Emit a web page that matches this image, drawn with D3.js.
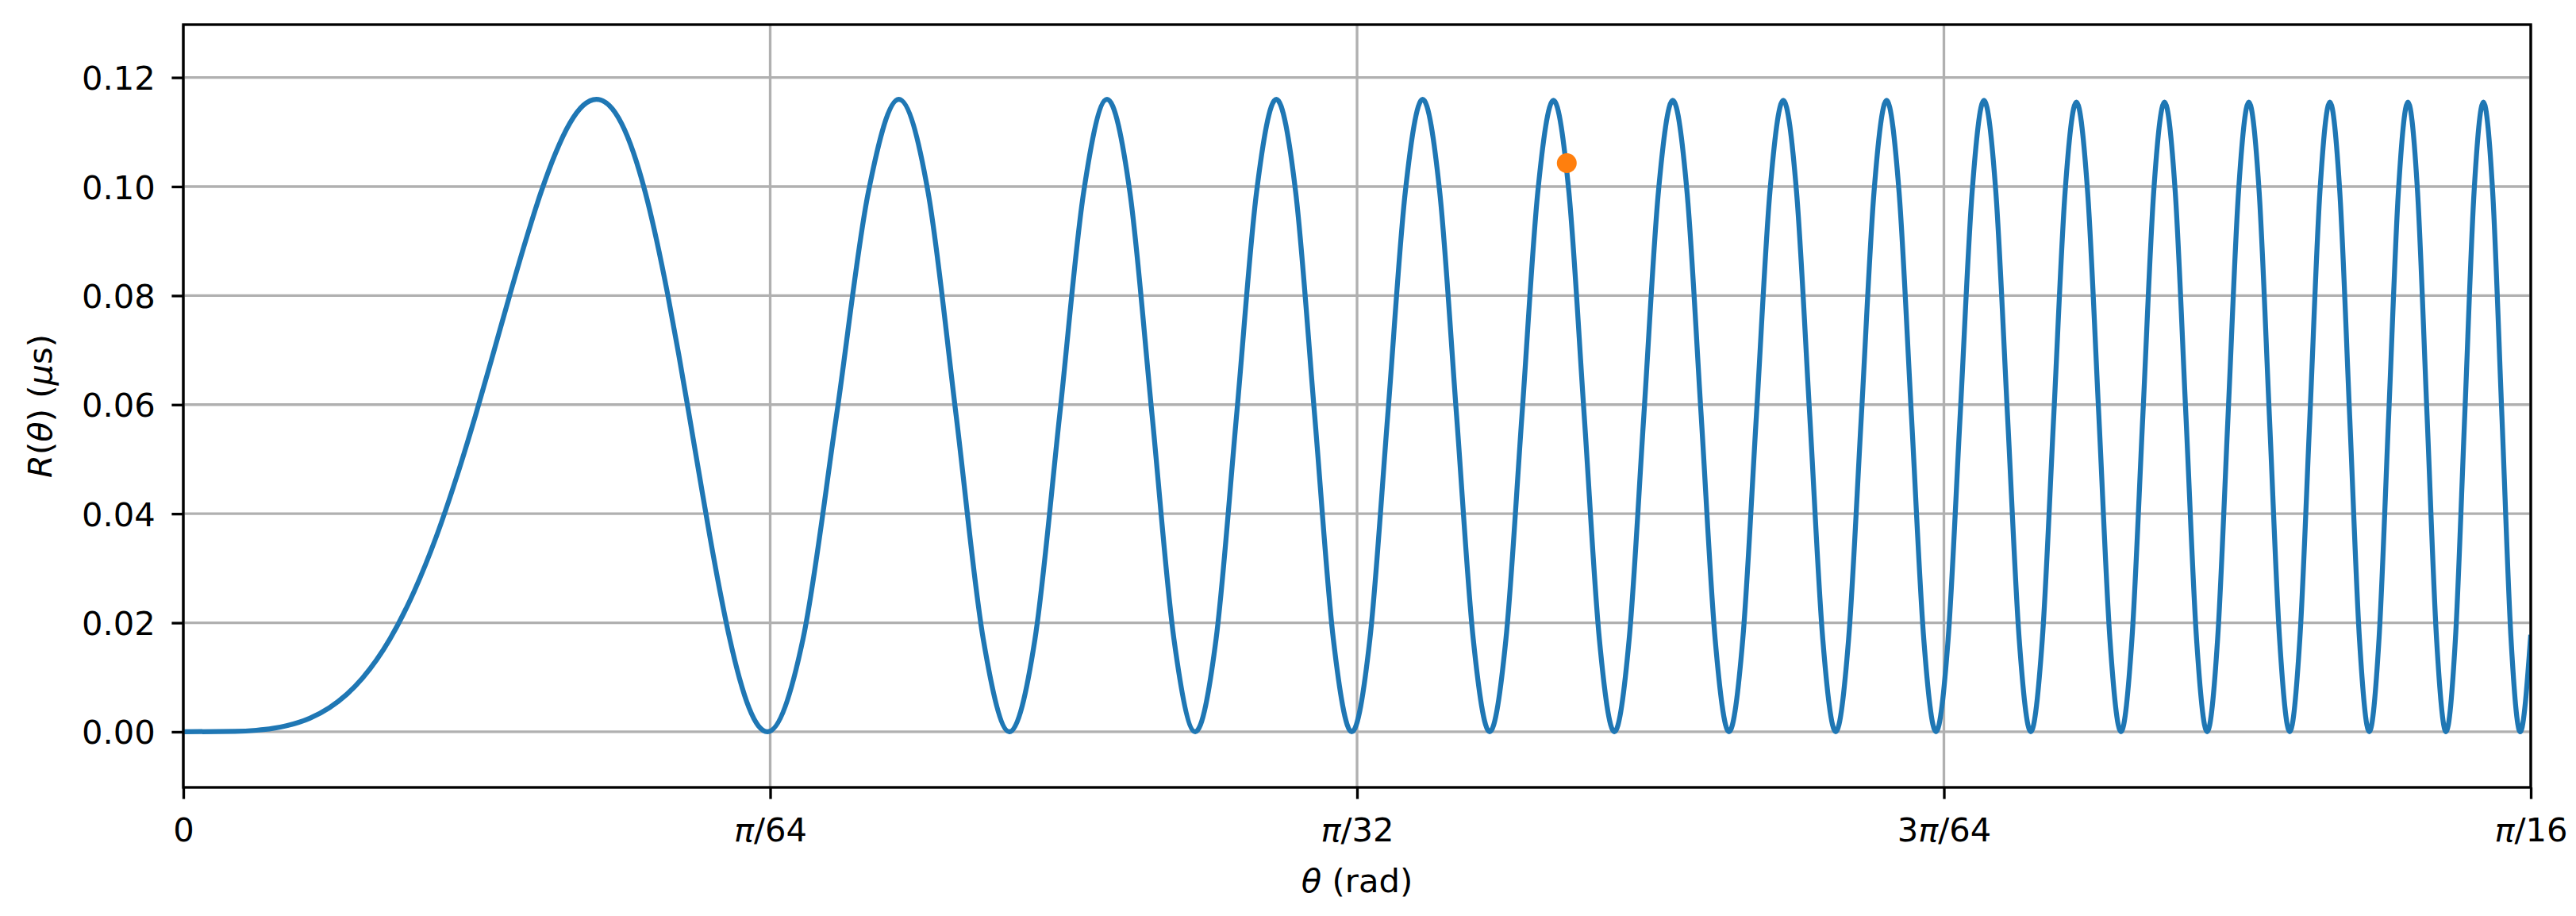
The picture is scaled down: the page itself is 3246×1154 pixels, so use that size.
<html>
<head>
    <meta charset="utf-8">
    <title>R(theta)</title>
    <style>
        body { margin: 0; background: #fff; }
        text { font-family: "DejaVu Sans", sans-serif; font-size: 41.67px; fill: #000; }
    </style>
</head>
<body>
<script src="https://cdn.jsdelivr.net/npm/d3@7/dist/d3.min.js"></script>
<script>
    // theta is in units of pi/64 rad, R in microseconds (one hump per line)
    var theta = [
        0, 0.0880, 0.1244, 0.1524, 0.1760, 0.1968, 0.2155, 0.2489, 0.2783, 0.3048, 0.3520, 0.3935, 0.4311, 0.4656, 0.4978, 0.5279, 0.5565, 0.5837, 0.6096, 0.6345, 0.6585, 0.6816,
        0.7039, 0.7256, 0.7466, 0.7671, 0.7870, 0.8064, 0.8254, 0.8440, 0.8621, 0.8799, 0.8973, 0.9144, 0.9312, 0.9477, 0.9639, 0.9798, 0.9955,
        1.0559, 1.1130, 1.1673, 1.2192, 1.2690, 1.3169, 1.3631, 1.4078,
        1.4512, 1.4932, 1.5342, 1.5740, 1.6129, 1.6508, 1.6880, 1.7243,
        1.7598, 1.7947, 1.8288, 1.8624, 1.8954, 1.9278, 1.9596, 1.9910,
        2.0219, 2.0523, 2.0822, 2.1118, 2.1409, 2.1696, 2.1980, 2.2260,
        2.2537, 2.2810, 2.3080, 2.3347, 2.3610, 2.3871, 2.4129, 2.4385,
        2.4637, 2.4887, 2.5135, 2.5380, 2.5623, 2.5864, 2.6102, 2.6338,
        2.6573, 2.6805, 2.7035, 2.7263, 2.7489, 2.7714, 2.7936, 2.8157,
        2.8376, 2.8594, 2.8809, 2.9024, 2.9236, 2.9447, 2.9657, 2.9865,
        3.0072, 3.0277, 3.0481, 3.0683, 3.0885, 3.1084, 3.1283, 3.1480,
        3.1677, 3.1872, 3.2065, 3.2258, 3.2449, 3.2640, 3.2829, 3.3017,
        3.3204, 3.3390, 3.3575, 3.3759, 3.3942, 3.4124, 3.4305, 3.4485,
        3.4664, 3.4842, 3.5020, 3.5196, 3.5372, 3.5546, 3.5720, 3.5893,
        3.6065, 3.6237, 3.6407, 3.6577, 3.6746, 3.6914, 3.7081, 3.7248,
        3.7414, 3.7579, 3.7744, 3.7907, 3.8071, 3.8233, 3.8395, 3.8556,
        3.8716, 3.8875, 3.9034, 3.9193, 3.9351, 3.9508, 3.9664, 3.9820,
        4.0000
    ];
    var R = [
        0, 0.00007, 0.00028, 0.00063, 0.00111, 0.00174, 0.00250, 0.00442, 0.00685, 0.00978, 0.0170, 0.0258, 0.0358, 0.0467, 0.0580, 0.0693, 0.0802, 0.0902, 0.0990, 0.1062, 0.1116, 0.1149,
        0.1160, 0.1149, 0.1116, 0.1062, 0.0990, 0.0902, 0.0802, 0.0693, 0.0580, 0.0467, 0.0358, 0.0258, 0.0170, 0.0098, 0.0044, 0.0011, 0,
        0.0170, 0.0580, 0.0990, 0.1160, 0.0990, 0.0580, 0.0170, 0,
        0.0170, 0.0580, 0.0990, 0.1160, 0.0990, 0.0580, 0.0170, 0,
        0.0170, 0.0580, 0.0990, 0.1160, 0.0990, 0.0580, 0.0170, 0,
        0.0170, 0.0580, 0.0990, 0.1160, 0.0990, 0.0580, 0.0170, 0,
        0.0170, 0.0580, 0.0990, 0.1158, 0.0990, 0.0580, 0.0170, 0,
        0.0170, 0.0580, 0.0990, 0.1158, 0.0990, 0.0580, 0.0170, 0,
        0.0170, 0.0580, 0.0990, 0.1158, 0.0990, 0.0580, 0.0170, 0,
        0.0170, 0.0580, 0.0990, 0.1158, 0.0990, 0.0580, 0.0170, 0,
        0.0170, 0.0580, 0.0990, 0.1158, 0.0990, 0.0580, 0.0170, 0,
        0.0170, 0.0580, 0.0990, 0.1155, 0.0990, 0.0580, 0.0170, 0,
        0.0170, 0.0580, 0.0990, 0.1155, 0.0990, 0.0580, 0.0170, 0,
        0.0170, 0.0580, 0.0990, 0.1155, 0.0990, 0.0580, 0.0170, 0,
        0.0170, 0.0580, 0.0990, 0.1155, 0.0990, 0.0580, 0.0170, 0,
        0.0170, 0.0580, 0.0990, 0.1155, 0.0990, 0.0580, 0.0170, 0,
        0.0170, 0.0580, 0.0990, 0.1155, 0.0990, 0.0580, 0.0170, 0,
        0.0178
    ];

    // the orange marker
    var dotTheta = [2.3574];
    var dotR = [0.1043];

    var xTicks = [0, 1, 2, 3, 4];
    var xTickLabels = ["0", "π/64", "π/32", "3π/64", "π/16"];
    var yTicks = [0, 0.02, 0.04, 0.06, 0.08, 0.10, 0.12];
    var yTickLabels = ["0.00", "0.02", "0.04", "0.06", "0.08", "0.10", "0.12"];

    var width = 3246;
    var height = 1154;
    var margin = {left: 231, right: 57, top: 31, bottom: 162};
    var innerW = width - margin.left - margin.right;
    var innerH = height - margin.top - margin.bottom;

    var svg = d3.select("body").append("svg")
            .attr("width", width)
            .attr("height", height);

    var g = svg.append("g")
            .attr("transform", "translate(" + margin.left + "," + margin.top + ")");

    var x = d3.scaleLinear().domain([0, 4]).range([0, innerW]);
    var y = d3.scaleLinear().domain([-0.0102, 0.1297]).range([innerH, 0]);

    svg.append("defs").append("clipPath")
            .attr("id", "plotArea")
            .append("rect")
            .attr("width", innerW)
            .attr("height", innerH);

    // grid lines
    g.selectAll(".gx")
            .data(xTicks)
            .enter()
            .append("line")
            .attr("x1", function (d) { return x(d); })
            .attr("x2", function (d) { return x(d); })
            .attr("y1", 0)
            .attr("y2", innerH)
            .attr("stroke", "#b0b0b0")
            .attr("stroke-width", 3.33);

    g.selectAll(".gy")
            .data(yTicks)
            .enter()
            .append("line")
            .attr("x1", 0)
            .attr("x2", innerW)
            .attr("y1", function (d) { return y(d); })
            .attr("y2", function (d) { return y(d); })
            .attr("stroke", "#b0b0b0")
            .attr("stroke-width", 3.33);

    var points = theta.map(function (t, i) { return [t, R[i]]; });

    var line = d3.line()
            .x(function (d) { return x(d[0]); })
            .y(function (d) { return y(d[1]); })
            .curve(d3.curveMonotoneX);

    g.append("path")
            .datum(points)
            .attr("clip-path", "url(#plotArea)")
            .attr("fill", "none")
            .attr("stroke", "#1f77b4")
            .attr("stroke-width", 6.25)
            .attr("stroke-linejoin", "round")
            .attr("d", line);

    g.selectAll(".dot")
            .data(dotTheta)
            .enter()
            .append("circle")
            .attr("cx", function (d) { return x(d); })
            .attr("cy", function (d, i) { return y(dotR[i]); })
            .attr("r", 12.5)
            .attr("fill", "#ff7f0e");

    // axes
    var xAxis = g.append("g")
            .attr("transform", "translate(0," + innerH + ")")
            .call(d3.axisBottom(x)
                    .tickValues(xTicks)
                    .tickSize(14.6)
                    .tickPadding(23.8)
                    .tickFormat(function (d, i) { return xTickLabels[i]; }));

    var yAxis = g.append("g")
            .call(d3.axisLeft(y)
                    .tickValues(yTicks)
                    .tickSize(14.6)
                    .tickPadding(20.6)
                    .tickFormat(function (d, i) { return yTickLabels[i]; }));

    [xAxis, yAxis].forEach(function (ax) {
        ax.select(".domain").remove();
        ax.selectAll(".tick line").attr("stroke", "#000").attr("stroke-width", 3.33);
        ax.selectAll("text")
                .attr("font-family", "DejaVu Sans")
                .attr("font-size", 41.67)
                .attr("fill", "#000");
    });
    yAxis.selectAll("text").attr("dy", "0.36em");

    // pi in the x tick labels is italic
    xAxis.selectAll(".tick text").each(function () {
        var t = d3.select(this);
        var parts = t.text().split("π");
        if (parts.length < 2) return;
        t.text(null);
        t.append("tspan").text(parts[0]);
        t.append("tspan").attr("font-style", "italic").text("π");
        t.append("tspan").text(parts[1]);
    });

    // frame
    g.append("rect")
            .attr("width", innerW)
            .attr("height", innerH)
            .attr("fill", "none")
            .attr("stroke", "#000")
            .attr("stroke-width", 3.33);

    // axis labels
    var xl = svg.append("text")
            .attr("x", margin.left + innerW / 2)
            .attr("y", 1124)
            .attr("text-anchor", "middle");
    xl.append("tspan").attr("font-style", "italic").text("θ");
    xl.append("tspan").text(" (rad)");

    var yl = svg.append("text")
            .attr("transform", "translate(65," + (margin.top + innerH / 2) + ") rotate(-90)")
            .attr("text-anchor", "middle");
    yl.append("tspan").attr("font-style", "italic").text("R");
    yl.append("tspan").text("(");
    yl.append("tspan").attr("font-style", "italic").text("θ");
    yl.append("tspan").text(") (");
    yl.append("tspan").attr("font-style", "italic").text("μ");
    yl.append("tspan").text("s)");
</script>
</body>
</html>
